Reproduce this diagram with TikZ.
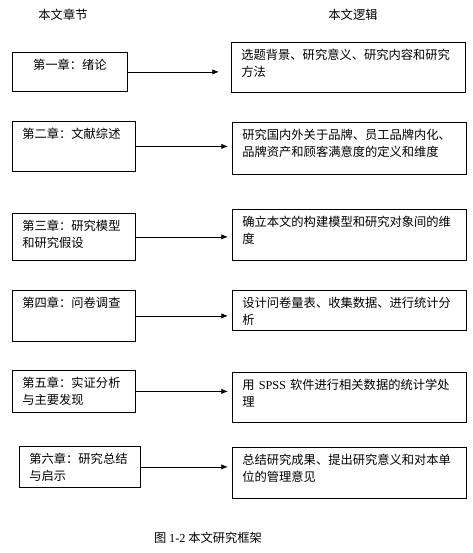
\documentclass[tikz,border=0pt]{standalone}
\usepackage{fontspec}
\setmainfont{Liberation Serif}
\newfontfamily\cjk{Noto Sans CJK SC}
\usetikzlibrary{arrows.meta}
\tikzset{
  chap/.style={draw, line width=0.6pt, anchor=north west, inner xsep=7.5pt, inner ysep=5pt, text height=8pt, align=left},
  logic/.style={chap, text width=160.5pt},
  arr/.style={-{Latex[length=5pt,width=4pt]}, line width=0.6pt, shorten >=3pt}
}
\begin{document}
\begin{tikzpicture}[x=0.75pt, y=-0.75pt, font=\cjk\fontsize{9.2pt}{12.8pt}\selectfont]
	\useasboundingbox (0,0) rectangle (473,553);
	% Heads
	\node (hchap) at (63,15) {本文章节};
	\node (hlogic) at (353,15) {本文逻辑};
	% Chapters
	\node[chap, text width=71.25pt, text depth=11.25pt, align=center] (c1) at (12,52) {第一章：绪论};
	\node[chap, text width=77.25pt, text depth=19.5pt] (c2) at (12,121) {第二章：文献综述};
	\node[chap, text width=77.25pt, text depth=17.25pt] (c3) at (12,213) {第三章：研究模型\\和研究假设};
	\node[chap, text width=77.25pt, text depth=20.25pt] (c4) at (12,290) {第四章：问卷调查};
	\node[chap, text width=77.25pt, text depth=13.5pt] (c5) at (12,370) {第五章：实证分析\\与主要发现};
	\node[chap, text width=75.75pt, text depth=12.75pt] (c6) at (19,446) {第六章：研究总结\\与启示};
	% Logic
	\node[logic, text depth=19.5pt] (l1) at (231,42) {选题背景、研究意义、研究内容和研究\\方法};
	\node[logic, text depth=21pt] (l2) at (232,122) {研究国内外关于品牌、员工品牌内化、\\品牌资产和顾客满意度的定义和维度};
	\node[logic, text depth=20.25pt] (l3) at (232,209) {确立本文的构建模型和研究对象间的维\\度};
	\node[logic, text depth=12pt] (l4) at (232,290) {设计问卷量表、收集数据、进行统计分\\析};
	\node[logic, text depth=19.5pt] (l5) at (232,372) {用 {\rmfamily SPSS} 软件进行相关数据的统计学处\\理};
	\node[logic, text depth=20.25pt] (l6) at (232,447) {总结研究成果、提出研究意义和对本单\\位的管理意见};
	% Arrows
	\draw[arr, shorten >=9pt] (c1.east) -- (c1.east -| l1.west);
	\foreach \i in {2,...,6}
		\draw[arr] (c\i.east) -- (c\i.east -| l\i.west);
	% Caption
	\node (cap) at (208,538) {图 {\rmfamily 1-2} 本文研究框架};
\end{tikzpicture}
\end{document}
